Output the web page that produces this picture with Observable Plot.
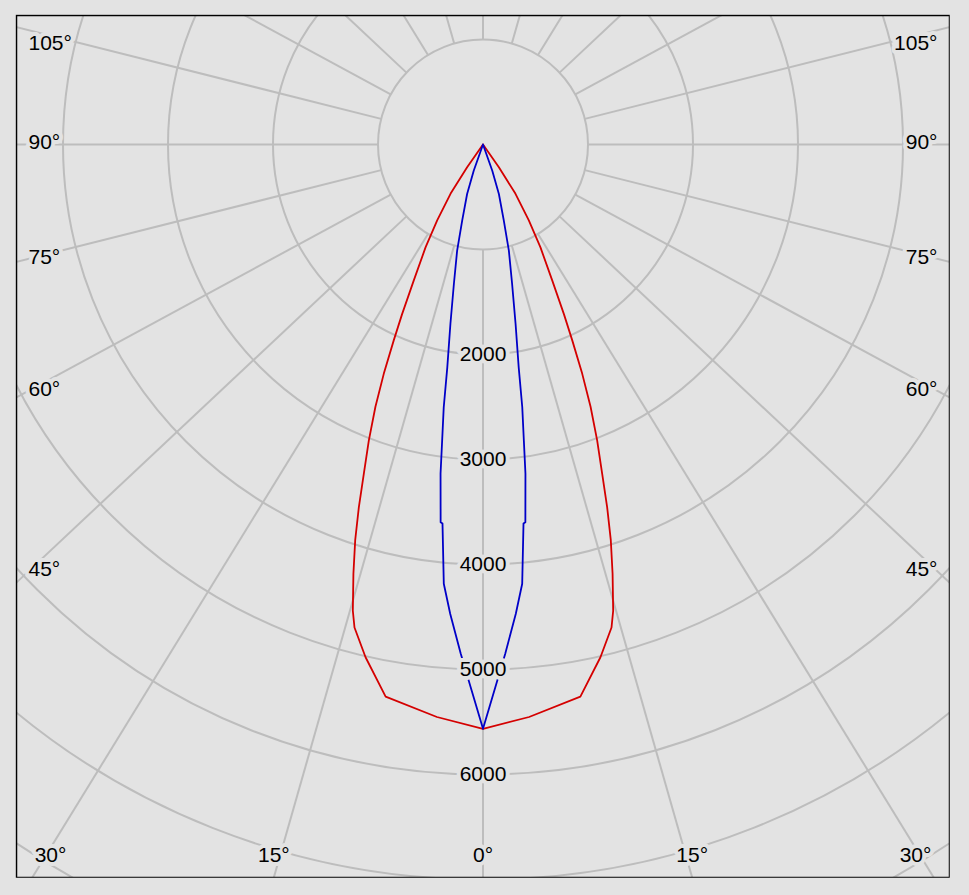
<!DOCTYPE html>
<html>
<head>
<meta charset="utf-8">
<script src="https://cdn.jsdelivr.net/npm/d3@7"></script>
<script src="https://cdn.jsdelivr.net/npm/@observablehq/plot@0.6"></script>
<style>
  html, body { margin: 0; padding: 0; background: #e3e3e3; }
  svg { display: block; }
</style>
</head>
<body>
<div id="chart"></div>
<script>
// ---- data (gamma angle in degrees, luminous intensity in cd) ----
const redGamma = [0, 4.6, 10, 12.9, 14.9, 15.6, 16.8, 17.9, 18.9, 19.9, 21.1, 22.3, 23.4, 24.5, 25.5, 27.0, 29.2, 31.1, 33.4, 34.8, 90];
const redCd    = [5565, 5470, 5340, 5010, 4760, 4610, 4270, 3960, 3650, 3335, 3020, 2700, 2380, 2050, 1790, 1450, 1120, 845, 560, 265, 0];
const blueGamma = [0, 1.3, 2.5, 4.0, 5.1, 6.1, 6.4, 7.35, 7.85, 8.5, 9.1, 10.3, 11.8, 13.7, 15.3, 17.8, 19.5, 90];
const blueCd    = [5565, 5170, 4855, 4480, 4200, 3630, 3620, 3160, 2850, 2530, 2150, 1735, 1355, 1040, 750, 495, 265, 0];

const rings = [1000, 2000, 3000, 4000, 5000, 6000, 7000, 8000];
const ringLabels = [2000, 3000, 4000, 5000, 6000];
const radialAngles = d3.range(0, 360, 15);
const bottomLabelAngles = [0, 15, 30];
const sideLabelAngles = [45, 60, 75, 90, 105];

// ---- styling / geometry ----
const bg = "#e3e3e3";
const grid = "#bdbdbd";
const W = 969, H = 895;
const mL = 16, mR = 20, mT = 15, mB = 18;
const k = 0.105;                // px per cd
const cxPx = 482.5, cyPx = 144; // pole position (px)
const xMin = -(cxPx - mL) / k, xMax = (W - mR - cxPx) / k;
const yMin = -(cyPx - mT) / k, yMax = (H - mB - cyPx) / k;
const S = 1.065;                // horizontal stretch of the radial grid
const rad = a => a * Math.PI / 180;
const dir = a => {
  const ux = Math.sin(rad(a)) * S, uy = Math.cos(rad(a));
  const n = Math.hypot(ux, uy);
  return [ux / n, uy / n];
};

function curve(gammas, cds) {
  const pts = [];
  for (let i = gammas.length - 1; i >= 0; i--) pts.push({x: -cds[i] * Math.sin(rad(gammas[i])), y: cds[i] * Math.cos(rad(gammas[i]))});
  for (let i = 1; i < gammas.length; i++) pts.push({x: cds[i] * Math.sin(rad(gammas[i])), y: cds[i] * Math.cos(rad(gammas[i]))});
  return pts;
}
const red = curve(redGamma, redCd);
const blue = curve(blueGamma, blueCd);

// angle labels
const angleLabels = [];
for (const a of bottomLabelAngles) {
  for (const side of (a === 0 ? [1] : [-1, 1])) {
    const [ux, uy] = dir(a);
    let x = side * ux * (yMax / uy);
    x = Math.max(xMin + 34 / k, Math.min(xMax - 34 / k, x));
    angleLabels.push({x, y: yMax - 22 / k, text: a + "°", anchor: "middle"});
  }
}
for (const a of sideLabelAngles) {
  const [ux, uy] = dir(a);
  for (const side of [-1, 1]) {
    const x = side < 0 ? xMin + 12 / k : xMax - 12 / k;
    let y = (Math.abs(x) / ux) * uy - 2 / k;
    y = Math.max(yMin + 28 / k, y);
    angleLabels.push({x, y, text: a + "°", anchor: side < 0 ? "start" : "end"});
  }
}

const font = "Liberation Sans";
const fs = 21;
const textOpts = {fill: "black", stroke: bg, strokeWidth: 8, paintOrder: "stroke", fontSize: fs, fontFamily: font};
const chart = Plot.plot({
  width: W, height: H,
  marginLeft: mL, marginRight: mR, marginTop: mT, marginBottom: mB,
  style: {background: bg, fontFamily: font},
  x: {domain: [xMin, xMax], axis: null},
  y: {domain: [yMax, yMin], axis: null},
  r: {type: "identity"},
  marks: [
    Plot.link(radialAngles, {
      x1: a => 1000 * dir(a)[0], y1: a => 1000 * dir(a)[1],
      x2: a => 14000 * dir(a)[0], y2: a => 14000 * dir(a)[1],
      stroke: grid, strokeWidth: 2, clip: true
    }),
    Plot.dot(rings, {x: d => 0, y: d => 0, r: d => d * k, stroke: grid, strokeWidth: 2, fill: "none", clip: true}),
    Plot.line(red, {x: "x", y: "y", stroke: "#d40000", strokeWidth: 1.8, curve: "linear"}),
    Plot.line(blue, {x: "x", y: "y", stroke: "#0000c8", strokeWidth: 1.8, curve: "linear"}),
    Plot.text(ringLabels, {x: d => 0, y: d => d, text: d => String(d), ...textOpts}),
    Plot.text(angleLabels.filter(d => d.anchor === "middle"), {x: "x", y: "y", text: "text", textAnchor: "middle", ...textOpts}),
    Plot.text(angleLabels.filter(d => d.anchor === "start"), {x: "x", y: "y", text: "text", textAnchor: "start", ...textOpts}),
    Plot.text(angleLabels.filter(d => d.anchor === "end"), {x: "x", y: "y", text: "text", textAnchor: "end", ...textOpts}),
    Plot.frame({stroke: "black", strokeWidth: 1.5})
  ]
});

// cover anything that spills into the margins (keeps grid inside the frame)
const svg = d3.select(chart);
const e = 0.75;
const masks = [
  [0, 0, W, mT - e],
  [0, H - mB + e, W, mB],
  [0, 0, mL - e, H],
  [W - mR + e, 0, mR, H]
];
svg.append("g").attr("class", "margin-mask")
  .selectAll("rect").data(masks).join("rect")
  .attr("x", d => d[0]).attr("y", d => d[1]).attr("width", d => d[2]).attr("height", d => d[3])
  .attr("fill", bg);

document.getElementById("chart").appendChild(chart);
</script>
</body>
</html>
